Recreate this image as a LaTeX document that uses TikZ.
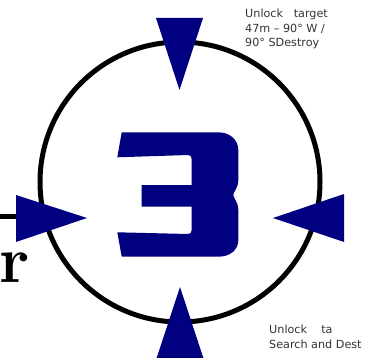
\documentclass[tikz,border=0pt]{standalone}
\usepackage{fontspec}
\newfontfamily\labfont{DejaVu Sans}
\definecolor{navy}{HTML}{000080}
\definecolor{labgray}{HTML}{333333}
\begin{document}
\begin{tikzpicture}[x=1pt,y=-1pt,
  tri/.style={fill=navy},
  ring/.style={draw=black,line width=5pt},
  lbl/.style={anchor=base west,align=left,inner sep=0pt,text=labgray,font=\labfont\fontsize{11.2}{14.5}\selectfont}]
\useasboundingbox (0,0) rectangle (377,358);
\clip (0,0) rectangle (377,358);
% ring
\draw[ring] (180,182) circle[radius=140pt];
% the big 3
\fill[navy] (121.7,132.3) -- (218.3,132.3)
  .. controls (230,132.3) and (238.3,140) .. (238.3,150)
  -- (238.3,180)
  .. controls (238.3,188) and (233.3,192) .. (233.3,195)
  .. controls (233.3,198) and (238.3,202) .. (238.3,210)
  -- (238.3,240)
  .. controls (238.3,250) and (230,256.7) .. (218.3,256.7)
  -- (121.7,256.7) -- (117.3,232.3) -- (188,234)
  .. controls (190.5,234) and (191.7,232.5) .. (191.7,230)
  -- (191.7,206.7) -- (141.7,206.7) -- (141.7,185) -- (191.7,185)
  -- (191.7,159.3)
  .. controls (191.7,157) and (190.5,155) .. (188.3,155)
  -- (117.3,157.3) -- cycle;
% triangles
\fill[tri] (156,18) -- (203,18) -- (179.5,90) -- cycle;
\fill[tri] (180,287) -- (204,360) -- (156,360) -- cycle;
\fill[tri] (273,218) -- (344,194) -- (344,242) -- cycle;
\fill[tri] (16,195) -- (87,218) -- (16,242) -- cycle;
% left fragments
\coordinate (lstart) at (0,216);
\coordinate (lend) at (16,216);
\draw[line width=5pt] (lstart) -- (lend);
\node[anchor=base east,inner sep=0pt] (rtext) at (30.5,282) {\fontsize{66}{66}\selectfont\bfseries r};
% labels (anchored at the baseline of their last line)
\node[lbl] (toplbl) at (245,47) {Unlock\ \ \ target\\47m – 90° W /\\90° SDestroy};
\node[lbl] (botlbl) at (269,348) {Unlock\ \ \ \ ta\\Search and Dest};
\end{tikzpicture}
\end{document}
